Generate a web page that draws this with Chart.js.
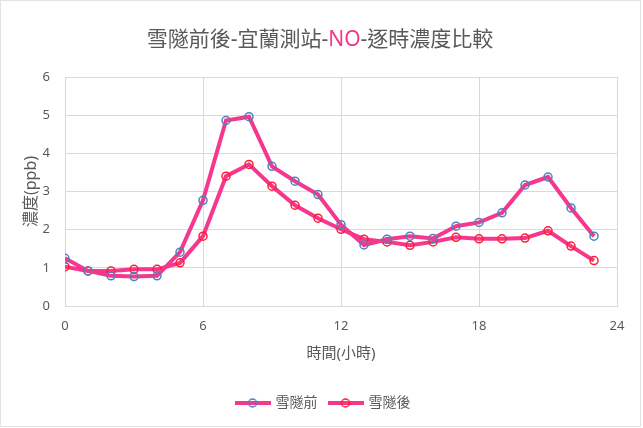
<!DOCTYPE html>
<html>
<head>
<meta charset="utf-8">
<script src="https://cdn.jsdelivr.net/npm/chart.js@4"></script>
<style>
  html, body { margin: 0; padding: 0; background: #ffffff; }
  #wrap { position: relative; width: 643px; height: 428px; }
</style>
</head>
<body>
<div id="wrap"><canvas id="c" width="643" height="428"></canvas></div>
<script>
// Hourly NO concentration (ppb) at the Yilan station, before / after the Hsuehshan Tunnel
const hours = [0, 1, 2, 3, 4, 5, 6, 7, 8, 9, 10, 11, 12, 13, 14, 15, 16, 17, 18, 19, 20, 21, 22, 23];
const beforeTunnel = [1.25, 0.92, 0.79, 0.77, 0.79, 1.41, 2.77, 4.86, 4.96, 3.66, 3.27, 2.92, 2.13, 1.60, 1.75, 1.83, 1.77, 2.09, 2.19, 2.44, 3.17, 3.38, 2.57, 1.83];
const afterTunnel  = [1.03, 0.92, 0.92, 0.96, 0.96, 1.13, 1.83, 3.40, 3.71, 3.14, 2.64, 2.30, 2.01, 1.75, 1.68, 1.59, 1.68, 1.80, 1.76, 1.76, 1.78, 1.97, 1.57, 1.19];
const seriesNames = ['雪隧前', '雪隧後'];
const titleParts = ['雪隧前後-宜蘭測站-', 'NO', '-逐時濃度比較'];
const xTitle = '時間(小時)';
const yTitle = '濃度(ppb)';

const LINE = '#F5378D';
const MARK_BEFORE = '#4F81BD';
const MARK_AFTER = '#FF1F2F';
const TEXT = '#595959';
const GRID = '#D9D9D9';
const FONT = "'Noto Sans', 'Noto Sans CJK TC', sans-serif";

function toPoints(vals) {
  return hours.map((h, i) => ({ x: h, y: vals[i] }));
}

// small legend glyph: pink line with a hollow circle marker
function legendGlyph(markColor) {
  const c = document.createElement('canvas');
  c.width = 36; c.height = 12;
  const g = c.getContext('2d');
  g.strokeStyle = LINE; g.lineWidth = 4;
  g.beginPath(); g.moveTo(0, 6); g.lineTo(36, 6); g.stroke();
  g.strokeStyle = markColor; g.lineWidth = 1.5;
  g.beginPath(); g.arc(18, 6, 4, 0, Math.PI * 2); g.stroke();
  return c;
}
const glyphs = [legendGlyph(MARK_BEFORE), legendGlyph(MARK_AFTER)];

// chart title with the pollutant name highlighted, light outer frame,
// and the legend centred under the whole frame rather than the padded box
const decorPlugin = {
  id: 'decor',
  afterLayout(chart) {
    if (chart.legend) {
      chart.legend.left += 15;
      chart.legend.right += 15;
    }
  },
  beforeDraw(chart) {
    const ctx = chart.ctx;
    ctx.save();
    ctx.fillStyle = '#ffffff';
    ctx.fillRect(0, 0, chart.width, chart.height);
    ctx.strokeStyle = '#E3E3E3';
    ctx.lineWidth = 1;
    ctx.strokeRect(0.5, 0.5, 640, 426);
    ctx.restore();
  },
  afterDraw(chart) {
    const ctx = chart.ctx;
    ctx.save();
    ctx.font = '21px ' + FONT;
    ctx.textBaseline = 'middle';
    const widths = titleParts.map(t => ctx.measureText(t).width);
    const total = widths.reduce((a, b) => a + b, 0);
    let x = 320 - total / 2;
    const colors = [TEXT, LINE, TEXT];
    titleParts.forEach((t, i) => {
      ctx.fillStyle = colors[i];
      ctx.fillText(t, x, 40);
      x += widths[i];
    });
    ctx.restore();
  }
};

new Chart(document.getElementById('c'), {
  type: 'line',
  data: {
    datasets: [
      {
        label: seriesNames[0],
        data: toPoints(beforeTunnel),
        borderColor: LINE,
        borderWidth: 4,
        pointRadius: 4,
        pointBorderWidth: 1.5,
        pointBorderColor: MARK_BEFORE,
        pointBackgroundColor: 'rgba(0,0,0,0)',
        tension: 0
      },
      {
        label: seriesNames[1],
        data: toPoints(afterTunnel),
        borderColor: LINE,
        borderWidth: 4,
        pointRadius: 4,
        pointBorderWidth: 1.5,
        pointBorderColor: MARK_AFTER,
        pointBackgroundColor: 'rgba(0,0,0,0)',
        tension: 0
      }
    ]
  },
  options: {
    responsive: false,
    animation: false,
    layout: { padding: { top: 77, left: 0, right: 26, bottom: 8 } },
    scales: {
      x: {
        type: 'linear',
        min: 0, max: 24,
        afterFit(scale) { scale.height = 78; },
        ticks: { stepSize: 6, color: TEXT, padding: 12, font: { family: FONT, size: 13 } },
        grid: { color: GRID, drawTicks: false },
        border: { color: GRID },
        title: { display: true, text: xTitle, color: TEXT, font: { family: FONT, size: 15 }, padding: { top: 4, bottom: 21 } }
      },
      y: {
        min: 0, max: 6,
        afterFit(scale) { scale.width = 65; },
        ticks: { stepSize: 1, color: TEXT, padding: 15, font: { family: FONT, size: 13 } },
        grid: { color: GRID, drawTicks: false },
        border: { color: GRID },
        title: { display: true, text: yTitle, color: TEXT, font: { family: FONT, size: 16 }, padding: { top: 22, bottom: 4 } }
      }
    },
    plugins: {
      title: { display: false },
      tooltip: { enabled: false },
      legend: {
        position: 'bottom',
        labels: {
          usePointStyle: true,
          pointStyleWidth: 32,
          padding: 12,
          color: TEXT,
          font: { family: FONT, size: 14 },
          generateLabels(chart) {
            return chart.data.datasets.map((ds, i) => ({
              text: ds.label,
              pointStyle: glyphs[i],
              fillStyle: 'rgba(0,0,0,0)',
              strokeStyle: 'rgba(0,0,0,0)',
              fontColor: TEXT,
              datasetIndex: i,
              hidden: false
            }));
          }
        }
      }
    }
  },
  plugins: [decorPlugin]
});
</script>
</body>
</html>
